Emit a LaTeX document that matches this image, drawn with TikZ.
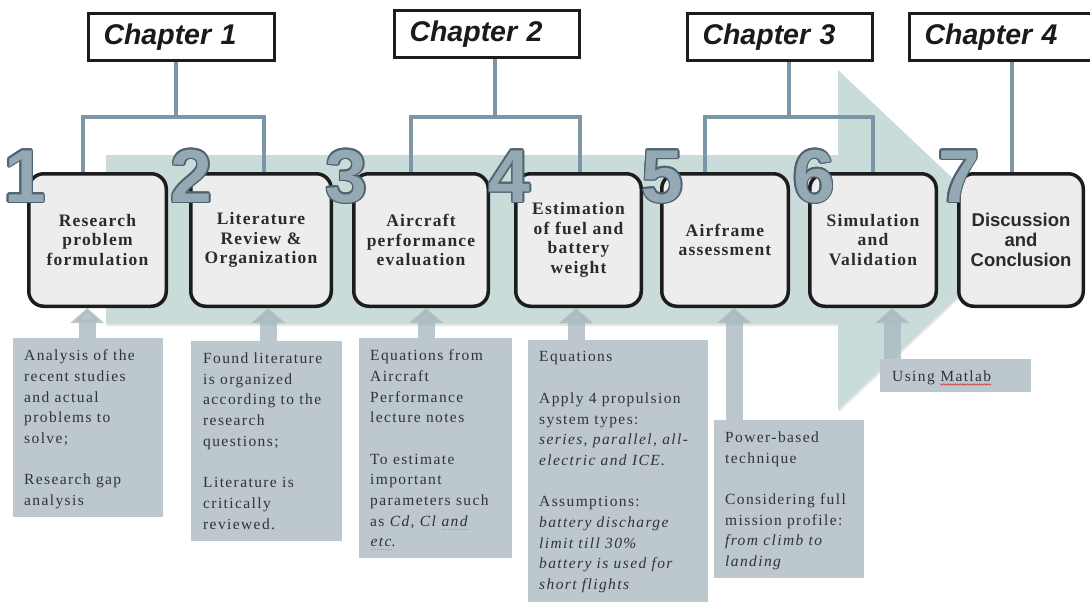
\documentclass[tikz,border=0pt]{standalone}
\usepackage{fontspec}
\usetikzlibrary{shadows,arrows.meta,decorations.pathmorphing}
\setmainfont{Liberation Serif}
\newfontfamily\notefamily[LetterSpace=9]{Liberation Serif}
\newfontfamily\stepfamily[LetterSpace=7]{Liberation Serif}
\newfontfamily\sansfamily{Liberation Sans}

\definecolor{flowfill}{HTML}{C9DCD9}
\definecolor{linkblue}{HTML}{7B96A6}
\definecolor{stepfill}{HTML}{EDEDED}
\definecolor{stepline}{HTML}{1C1C1C}
\definecolor{steptext}{HTML}{2B2B2B}
\definecolor{chaptext}{HTML}{1A1A1A}
\definecolor{notefill}{HTML}{BCC7CE}
\definecolor{notetextc}{HTML}{333333}
\definecolor{feedfill}{HTML}{A9B9C1}
\definecolor{digitfill}{HTML}{95A9B4}
\definecolor{digitline}{HTML}{4E6270}
\definecolor{markgold}{HTML}{C9A040}
\definecolor{markred}{HTML}{D03030}

% spell-check style marks under single words
\newcommand{\spellmark}[1]{\tikz[baseline=(w.base)]{\node[inner sep=0pt,outer sep=0pt] (w) {#1};
  \draw[markgold, line width=0.9pt, dash pattern=on 0.9pt off 1.1pt]
    ([yshift=-3pt]w.base west) -- ([yshift=-3pt]w.base east);}}
\newcommand{\spellwave}[1]{\tikz[baseline=(w.base)]{\node[inner sep=0pt,outer sep=0pt] (w) {#1};
  \draw[markred, line width=0.5pt, decorate, decoration={snake, amplitude=0.7pt, segment length=2.4pt}]
    ([yshift=-3pt]w.base west) -- ([yshift=-3pt]w.base east);}}

\pgfdeclarelayer{back}
\pgfsetlayers{back,main}

\tikzset{
  link/.style={draw=linkblue, line width=4.5pt},
  stepbox/.style={draw=stepline, line width=3.5pt, rounded corners=15pt,
    fill=stepfill, align=center, text=steptext, inner sep=2pt,
    font=\stepfamily\bfseries\fontsize{17.5}{19.7}\selectfont,
    drop shadow={shadow xshift=1.5pt, shadow yshift=-1.5pt, opacity=0.3}},
  chapbox/.style={draw=stepline, line width=3pt, fill=white, align=left,
    inner xsep=15pt, inner ysep=0pt, minimum height=47pt, text=chaptext,
    font=\sansfamily\bfseries\itshape\fontsize{28.5}{30}\selectfont,
    drop shadow={shadow xshift=1.5pt, shadow yshift=-1.5pt, opacity=0.3}},
  numeral/.style={text=digitfill, inner sep=0pt, anchor=base,
    font=\sansfamily\bfseries\fontsize{75}{75}\selectfont},
  notebox/.style={fill=notefill, inner sep=0pt, anchor=north west},
  notetext/.style={anchor=north west, inner sep=0pt, align=left, text=notetextc,
    font=\notefamily\fontsize{15.5}{20.7}\selectfont},
  feed/.style={draw=feedfill, line width=17pt,
    -{Triangle[width=33pt,length=15pt]}, draw opacity=0.8, fill opacity=0.8}
}

% outlined step number: dark copies around, light digit on top
\newcommand{\stepnumeral}[3]{%
  \foreach \a in {0,30,...,330}
    \node[numeral, text=digitline, shift={(\a:1.5)}] at (#2) {#3};
  \node[numeral] (#1) at (#2) {#3};}

\begin{document}
\begin{tikzpicture}[x=1pt,y=-1pt]
\useasboundingbox (0,0) rectangle (1090,602);

% chapter headings
\node[chapbox, text width=156pt] (ch1) at (181.5,37) {Chapter 1};
\node[chapbox, text width=155pt] (ch2) at (487,34.5) {Chapter 2};
\node[chapbox, text width=155pt] (ch3) at (780,37.5) {Chapter 3};
\node[chapbox, text width=171pt] (ch4) at (1010,37.5) {Chapter 4};

% note boxes below the flow
\node[notebox, minimum width=150pt, minimum height=179pt] (b1) at (13,338) {};
\node[notebox, minimum width=151pt, minimum height=200pt] (b2) at (191,341) {};
\node[notebox, minimum width=153pt, minimum height=220pt] (b3) at (359,338) {};
\node[notebox, minimum width=180pt, minimum height=262pt] (b4) at (528,340) {};
\node[notebox, minimum width=150pt, minimum height=158pt] (b5) at (714,420) {};
\node[notebox, minimum width=151pt, minimum height=33pt] (b6) at (880,359) {};

\node[notetext] (t1) at ([xshift=11pt,yshift=-11.5pt]b1.north west)
  {Analysis of the\\recent studies\\and actual\\problems to\\solve;\\[20.7pt]Research gap\\analysis};
\node[notetext] (t2) at ([xshift=12pt,yshift=-11.5pt]b2.north west)
  {Found literature\\is organized\\according to the\\research\\questions;\\[20.7pt]Literature is\\critically\\reviewed.};
\node[notetext] (t3) at ([xshift=11pt,yshift=-11.5pt]b3.north west)
  {Equations from\\Aircraft\\Performance\\lecture notes\\[20.7pt]To estimate\\important\\parameters such\\as \textit{Cd, Cl \spellmark{and}}\\\textit{\spellmark{etc}.}};
\node[notetext] (t4) at ([xshift=11pt,yshift=-11.5pt]b4.north west)
  {Equations\\[20.7pt]Apply 4 propulsion\\system types:\\\textit{series, parallel, all-}\\\textit{electric and ICE.}\\[20.7pt]Assumptions:\\\textit{battery discharge}\\\textit{limit till 30\%}\\\textit{battery is used for}\\\textit{short flights}};
\node[notetext] (t5) at ([xshift=11pt,yshift=-11.5pt]b5.north west)
  {Power-based\\technique\\[20.7pt]Considering full\\mission profile:\\\textit{from climb to}\\\textit{landing}};
\node[notetext] (t6) at ([xshift=12pt,yshift=-11.5pt]b6.north west)
  {Using \spellwave{Matlab}};

% the seven steps
\node[stepbox, minimum width=137.5pt, minimum height=132.5pt] (n1) at (97.5,240) {Research\\problem\\formulation};
\node[stepbox, minimum width=140.5pt, minimum height=132.5pt] (n2) at (261,240) {Literature\\Review \&\\Organization};
\node[stepbox, minimum width=134.5pt, minimum height=132.5pt] (n3) at (421,240) {Aircraft\\performance\\evaluation};
\node[stepbox, minimum width=125.5pt, minimum height=132.5pt] (n4) at (578.5,240) {Estimation\\of fuel and\\battery\\weight};
\node[stepbox, minimum width=126.5pt, minimum height=132.5pt] (n5) at (725,240) {Airframe\\assessment};
\node[stepbox, minimum width=126.5pt, minimum height=132.5pt] (n6) at (873,240) {Simulation\\and\\Validation};
\node[stepbox, minimum width=124.5pt, minimum height=132.5pt,
  font=\sansfamily\bfseries\fontsize{18.5}{19.7}\selectfont] (n7) at (1021,240) {Discussion\\and\\Conclusion};

% step numbers
\stepnumeral{d1}{25,202}{1}
\stepnumeral{d2}{191.5,202}{2}
\stepnumeral{d3}{346.5,202}{3}
\stepnumeral{d4}{509.5,202}{4}
\stepnumeral{d5}{662.5,202}{5}
\stepnumeral{d6}{814,202}{6}
\stepnumeral{d7}{959,202}{7}

\begin{pgfonlayer}{back}
  % large flow arrow behind the steps
  \fill[flowfill, drop shadow={shadow xshift=1pt, shadow yshift=-2pt, opacity=0.2}]
    (106,155) -- (838,155) -- (838,70) -- (1018,240) -- (838,410)
    -- (838,324) -- (106,324) -- cycle;

  % chapter brackets
  \coordinate (j1) at (176,117);
  \coordinate (j2) at (495,117);
  \coordinate (j3) at (789,117);
  \draw[link] (ch1.south -| j1) -- (j1);
  \draw[link] ([xshift=-14.5pt]n1.north) |- (j1) -| ([xshift=3pt]n2.north);
  \draw[link] (ch2.south -| j2) -- (j2);
  \draw[link] ([xshift=-10pt]n3.north) |- (j2) -| ([xshift=1.5pt]n4.north);
  \draw[link] (ch3.south -| j3) -- (j3);
  \draw[link] ([xshift=-20pt]n5.north) |- (j3) -| (n6.north);
  \draw[link] ([xshift=-9pt]n7.north) -- ([xshift=-9pt]n7.north |- ch4.south);

  % feed arrows from the notes into the steps
  \coordinate (f1) at ([xshift=-1pt]b1.north);
  \coordinate (f2) at ([xshift=1.5pt]b2.north);
  \coordinate (f3) at ([xshift=-9.5pt]b3.north);
  \coordinate (f4) at ([xshift=-42pt]b4.north);
  \coordinate (f5) at ([xshift=-55pt]b5.north);
  \coordinate (f6) at ([xshift=-63.5pt]b6.north);
  \draw[feed] (f1) -- (f1 |- n1.south);
  \draw[feed] (f2) -- (f2 |- n2.south);
  \draw[feed] (f3) -- (f3 |- n3.south);
  \draw[feed] (f4) -- (f4 |- n4.south);
  \draw[feed] (f5) -- (f5 |- n5.south);
  \draw[feed] (f6) -- (f6 |- n6.south);
\end{pgfonlayer}
\end{tikzpicture}
\end{document}
